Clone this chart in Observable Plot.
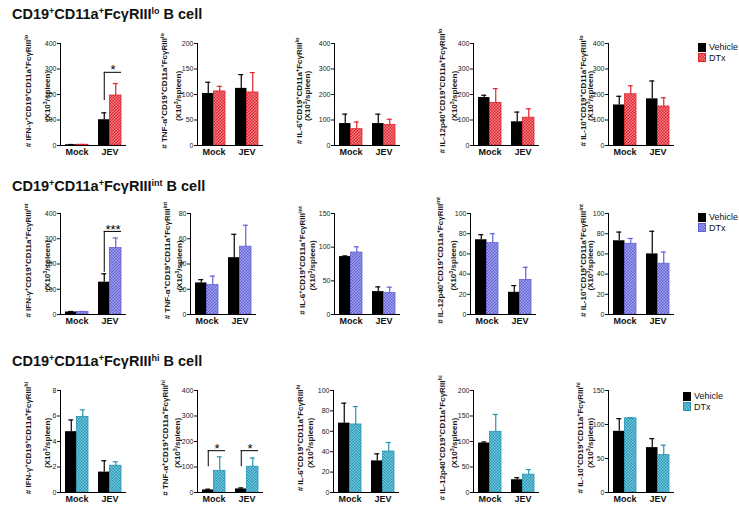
<!DOCTYPE html>
<html><head><meta charset="utf-8">
<script src="https://cdn.jsdelivr.net/npm/d3@7"></script>
<script src="https://cdn.jsdelivr.net/npm/@observablehq/plot@0.6"></script>
<style>
body{margin:0;background:#fff;}
#fig{position:relative;width:739px;height:510px;overflow:hidden;font-family:Arial,"Liberation Sans",sans-serif;color:#111;}
.title{position:absolute;left:12px;font-weight:bold;font-size:14.5px;line-height:15px;white-space:nowrap;}
.title sup{font-size:9px;vertical-align:5px;line-height:0;}
.panel{position:absolute;}
.legend{position:absolute;font-size:9px;}
.legend .row{display:flex;align-items:center;height:10.5px;}
.legend svg{margin-right:2px;}
#labels{position:absolute;left:0;top:0;pointer-events:none;}
</style></head>
<body><div id="fig"></div>
<script>
// ---- data ----
const groups = ["Mock", "JEV"];
const treatments = ["Vehicle", "DTx"];
const cytokines = ["IFN-γ", "TNF-α", "IL-6", "IL-12p40", "IL-10"];
const subsets = ["lo", "int", "hi"];

// [cytokine][Mock, JEV]
const loVehicle    = [[3, 101], [102, 112], [86, 86], [188, 93], [159, 183]];
const loVehicleSem = [[1, 27], [22, 27], [37, 37], [9, 38], [34, 70]];
const loDTx        = [[3, 196], [106, 104], [64, 81], [167, 109], [201, 153]];
const loDTxSem     = [[1, 47], [10, 39], [28, 22], [56, 35], [33, 34]];

const intVehicle    = [[10, 128], [25, 45], [86, 34], [74, 22], [73, 60]];
const intVehicleSem = [[2, 33], [2.6, 18.5], [1, 7], [5, 6.6], [8.6, 22.4]];
const intDTx        = [[10, 263], [23.4, 53.7], [92, 32], [70.7, 34.2], [70, 50.3]];
const intDTxSem     = [[2, 40], [7, 17], [8.5, 8.5], [9.3, 12.5], [5.3, 11.5]];

const hiVehicle    = [[4.77, 1.6], [10, 14], [68, 31], [97, 25], [90, 66]];
const hiVehicleSem = [[0.92, 0.89], [3, 4], [19.6, 6.9], [2, 4], [18.6, 13.2]];
const hiDTx        = [[5.93, 2.1], [85, 101], [66.7, 40.2], [119, 35], [109, 55]];
const hiDTxSem     = [[0.55, 0.31], [55, 34], [17.6, 8.8], [34, 10], [1, 14.6]];

const yMax  = [[400, 200, 400, 400, 400], [400, 80, 150, 100, 100], [8, 400, 100, 200, 150]];
const yStep = [[100, 50, 100, 100, 100], [100, 20, 50, 20, 20], [2, 100, 20, 50, 50]];

const brackets = [
  {subset: "lo",  cytokine: "IFN-γ", group: "JEV",  from: 176, to: 287, label: "*"},
  {subset: "int", cytokine: "IFN-γ", group: "JEV",  from: 167, to: 329, label: "***"},
  {subset: "hi",  cytokine: "TNF-α", group: "Mock", from: 101, to: 164, label: "*"},
  {subset: "hi",  cytokine: "TNF-α", group: "JEV",  from: 101, to: 164, label: "*"}
];

// ---- styling / layout ----
const dtxColor = {lo: "#e0242c", int: "#6262d6", hi: "#2596b4"};
const dtxLight = {lo: "#f2868a", int: "#a6a6ee", hi: "#7ccbe0"};
const vehicleMeans = [loVehicle, intVehicle, hiVehicle];
const vehicleSems = [loVehicleSem, intVehicleSem, hiVehicleSem];
const dtxMeans = [loDTx, intDTx, hiDTx];
const dtxSems = [loDTxSem, intDTxSem, hiDTxSem];

const rowTop = [43, 213, 390];
const rowBottom = [145, 314, 492];
const colAxis = [[60, 197, 334, 473, 608], [60, 190, 334, 470, 608], [60, 197, 333, 473, 608]];
const labOff = [
  [[-32, -13], [-33, -19], [-35, -27], [-31, -19], [-25, -18]],
  [[-32, -13], [-23, -11], [-32, -22], [-30, -17], [-25, -18]],
  [[-32, -13], [-32, -20], [-33, -23], [-31, -19], [-28, -18]]
];
const titleTop = [7, 179, 354];
const legendPos = [[698, 42], [698, 212], [683, 391]];

const fig = document.getElementById("fig");

// patterns
const defs = `<svg width="0" height="0" style="position:absolute"><defs>${subsets.map(s => `
  <pattern id="pat-${s}" width="3" height="3" patternUnits="userSpaceOnUse">
    <rect width="3" height="3" fill="${dtxColor[s]}"/>
    <rect width="1.5" height="1.5" fill="${dtxLight[s]}"/>
    <rect x="1.5" y="1.5" width="1.5" height="1.5" fill="${dtxLight[s]}"/>
  </pattern>`).join("")}</defs></svg>`;
fig.insertAdjacentHTML("beforeend", defs);

const BW = 23, half = BW / 2, ctr = half / 2, cap = 2.5;
const ML = 30, MR = 4, MT = 6, MB = 16, XW = 66;

// rotated axis titles with superscripts (SVG text), centred after measuring
const labelItems = [];
function richText(parts, x, y) {
  let s = `<text data-x="${x}" data-y="${y}" text-anchor="start">`;
  let raised = false;
  parts.forEach(([txt, sup]) => {
    if (sup) { s += `<tspan font-size="5.5" dy="${raised ? 0 : -3}">${txt}</tspan>`; raised = true; }
    else { s += `<tspan dy="${raised ? 3 : 0}">${txt}</tspan>`; raised = false; }
  });
  return s + `</text>`;
}
let labelSvg = `<svg id="labels" width="739" height="510" font-family="Arial, 'Liberation Sans', sans-serif" font-weight="bold" font-size="8" fill="#1a1a1a">`;

subsets.forEach((subset, r) => {
  const t = document.createElement("div");
  t.className = "title";
  t.style.top = titleTop[r] + "px";
  t.innerHTML = `CD19<sup>+</sup>CD11a<sup>+</sup>FcγRIII<sup>${subset}</sup> B cell`;
  fig.appendChild(t);

  const lg = document.createElement("div");
  lg.className = "legend";
  lg.style.left = legendPos[r][0] + "px";
  lg.style.top = legendPos[r][1] + "px";
  lg.innerHTML = treatments.map((tr, i) => `<div class="row"><svg width="9" height="9">${
    i === 0 ? `<rect width="8" height="9" fill="#000"/>` :
    `<rect x="0.5" y="0.5" width="7" height="8" fill="url(#pat-${subset})" stroke="${dtxColor[subset]}"/>`
  }</svg><span>${tr}</span></div>`).join("");
  fig.appendChild(lg);

  cytokines.forEach((cyto, c) => {
    const rows = groups.map((g, i) => ({
      group: g,
      vehicle: vehicleMeans[r][c][i], vehicleSem: vehicleSems[r][c][i],
      dtx: dtxMeans[r][c][i], dtxSem: dtxSems[r][c][i]
    }));
    const br = brackets.filter(b => b.subset === subset && b.cytokine === cyto);
    const col = dtxColor[subset];
    const plotH = rowBottom[r] - rowTop[r];
    const chart = Plot.plot({
      width: ML + XW + MR, height: MT + plotH + MB,
      marginLeft: ML, marginRight: MR, marginTop: MT, marginBottom: MB,
      style: {fontFamily: "Arial, 'Liberation Sans', sans-serif", background: "transparent", color: "#111", overflow: "visible"},
      x: {domain: groups, paddingInner: 10 / 33, paddingOuter: 5 / 33, align: 0.5, round: false, label: null},
      y: {domain: [0, yMax[r][c]], label: null},
      marks: [
        Plot.barY(rows, {x: "group", y: "vehicle", fill: "#000", insetRight: half}),
        Plot.barY(rows, {x: "group", y: "dtx", fill: `url(#pat-${subset})`, stroke: col, strokeWidth: 0.8, insetLeft: half}),
        Plot.ruleX(rows, {x: "group", y1: "vehicle", y2: d => d.vehicle + d.vehicleSem, dx: -ctr, stroke: "#000", strokeWidth: 1.2}),
        Plot.tickY(rows, {x: "group", y: d => d.vehicle + d.vehicleSem, insetLeft: ctr - cap, insetRight: BW - ctr - cap, stroke: "#000", strokeWidth: 1.2}),
        Plot.ruleX(rows, {x: "group", y1: "dtx", y2: d => d.dtx + d.dtxSem, dx: ctr, stroke: col, strokeWidth: 1.2}),
        Plot.tickY(rows, {x: "group", y: d => d.dtx + d.dtxSem, insetLeft: half + ctr - cap, insetRight: ctr - cap, stroke: col, strokeWidth: 1.2}),
        Plot.ruleX(br, {x: "group", y1: "from", y2: "to", dx: -ctr, stroke: "#000"}),
        Plot.tickY(br, {x: "group", y: "to", insetLeft: ctr, stroke: "#000"}),
        Plot.text(br, {x: "group", y: "to", text: "label", dx: 3, dy: -2, fontSize: 13, fill: "#000"}),
        Plot.ruleY([0], {stroke: "#000"}),
        Plot.frame({anchor: "left", stroke: "#000"}),
        Plot.axisY({ticks: d3.range(0, yMax[r][c] + yStep[r][c] / 2, yStep[r][c]), tickSize: 3, tickPadding: 1, fontSize: 7, fill: "#222", label: null}),
        Plot.axisX({tickSize: 0, tickPadding: 3, fontSize: 9, fontWeight: "bold", fill: "#111", label: null})
      ]
    });
    const wrap = document.createElement("div");
    wrap.className = "panel";
    wrap.style.left = (colAxis[r][c] - ML) + "px";
    wrap.style.top = (rowTop[r] - MT) + "px";
    wrap.appendChild(chart);
    fig.appendChild(wrap);

    const mid = (rowTop[r] + rowBottom[r]) / 2;
    labelSvg += richText(
      [["# " + cyto, false], ["+", true], ["CD19", false], ["+", true], ["CD11a", false], ["+", true], ["FcγRIII", false], [subset, true]],
      colAxis[r][c] + labOff[r][c][0] + 3, mid - 3);
    labelSvg += richText(
      [["(X10", false], ["3", true], ["/spleen)", false]],
      colAxis[r][c] + labOff[r][c][1] + 3, mid + 2);
  });
});
labelSvg += `</svg>`;
fig.insertAdjacentHTML("beforeend", labelSvg);
document.querySelectorAll("#labels text").forEach(el => {
  const len = el.getComputedTextLength();
  const x = +el.dataset.x, y = +el.dataset.y + len / 2;
  el.setAttribute("transform", `translate(${x},${y}) rotate(-90)`);
});
</script>
</body></html>
